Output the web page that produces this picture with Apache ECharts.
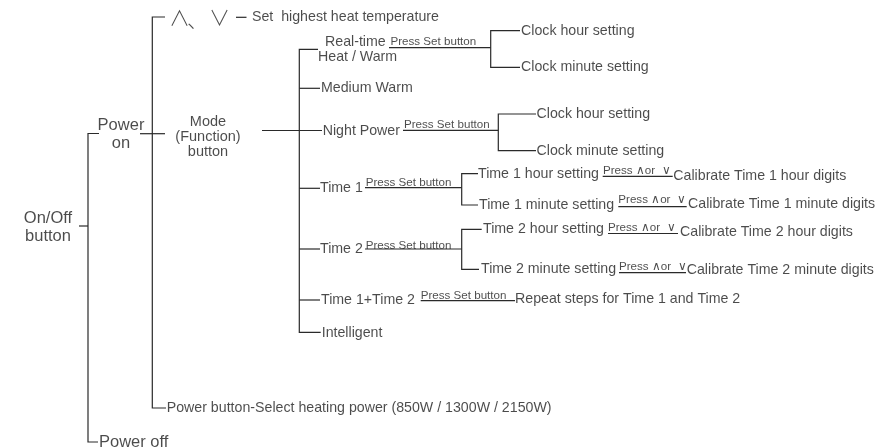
<!DOCTYPE html>
<html>
<head>
<meta charset="utf-8">
<script src="https://cdn.jsdelivr.net/npm/echarts@6/dist/echarts.min.js"></script>
<style>
html,body{margin:0;padding:0;background:#fff;}
#chart{width:879px;height:447px;}
</style>
</head>
<body>
<div id="chart"></div>
<script>
// ---- diagram content (node labels) ----
const stepLabels = [
  'Set  highest heat temperature',
  'Real-time', 'Heat / Warm',
  'Clock hour setting', 'Clock minute setting',
  'Medium Warm',
  'Night Power',
  'Clock hour setting', 'Clock minute setting',
  'Time 1',
  'Time 1 hour setting', 'Calibrate Time 1 hour digits',
  'Time 1 minute setting', 'Calibrate Time 1 minute digits',
  'Time 2',
  'Time 2 hour setting', 'Calibrate Time 2 hour digits',
  'Time 2 minute setting', 'Calibrate Time 2 minute digits',
  'Time 1+Time 2', 'Repeat steps for Time 1 and Time 2',
  'Intelligent',
  'Power button-Select heating power (850W / 1300W / 2150W)'
];
const stepAnchors = [
  [252, 17.5],
  [325, 42.3], [318, 57.3],
  [521, 31.3], [521, 67.5],
  [321, 88.5],
  [322.7, 131],
  [536.5, 114.5], [536.5, 151],
  [320, 188.5],
  [478, 174.5], [673.3, 176],
  [479, 205.5], [688, 204.5],
  [320, 249.5],
  [483, 229.5], [680, 231.7],
  [481, 269.5], [686.7, 270],
  [321, 300], [515, 299.5],
  [321.7, 333.5],
  [166.7, 408]
];

const edgeNotes = [
  'Press Set button', 'Press Set button', 'Press Set button', 'Press Set button', 'Press Set button',
  'Press ∧or  ∨', 'Press ∧or  ∨', 'Press ∧or  ∨', 'Press ∧or  ∨'
];
const edgeNoteAnchors = [
  [390.5, 42], [404, 124.7], [365.7, 183], [365.7, 245.5], [420.7, 296],
  [603, 170.5], [618.3, 199.5], [608, 228], [619, 267]
];

const buttonLabels = ['On/Off\nbutton', 'Power\non', 'Power off'];
const buttonAnchors = [[48, 227.5], [121, 134], [99, 442]];
const buttonAlign = ['center', 'center', 'left'];

const modeLabel = ['Mode\n(Function)\nbutton'];
const modeAnchor = [[208, 137]];

const arrowKeys = ['∧', '、', '∨'];
const arrowKeyAnchors = [[169, 17], [187, 19], [209, 17]];

// ---- connector paths of the tree ----
const connectorPaths = [
  // On/Off bracket
  [[79, 226], [88, 226]],
  [[99, 133.5], [88, 133.5], [88, 442], [98, 442]],
  // Power on -> main bracket
  [[140, 133.7], [165, 133.7]],
  [[165, 17], [152.3, 17], [152.3, 408], [166, 408]],
  [[236, 17.3], [246.5, 17.3]],
  // Mode -> functions
  [[262, 130.5], [322, 130.5]],
  [[318, 49.3], [299.3, 49.3], [299.3, 332.3], [320.7, 332.3]],
  [[299.3, 88.3], [320, 88.3]],
  [[299.3, 188.3], [320, 188.3]],
  [[299.3, 249], [320, 249]],
  [[299.3, 300], [320, 300]],
  // Real-time
  [[389, 47.7], [490.7, 47.7]],
  [[520, 30.7], [490.7, 30.7], [490.7, 67.3], [520, 67.3]],
  // Night Power
  [[403, 130.3], [498.3, 130.3]],
  [[536, 114], [498.3, 114], [498.3, 150.7], [536, 150.7]],
  // Time 1
  [[365, 187.7], [461.7, 187.7]],
  [[478, 173.7], [461.7, 173.7], [461.7, 205], [478, 205]],
  [[602.7, 176.3], [672.7, 176.3]],
  [[618.3, 206.7], [686.7, 206.7]],
  // Time 2
  [[365, 249], [461.7, 249]],
  [[481.7, 229.3], [461.7, 229.3], [461.7, 269.3], [479, 269.3]],
  [[608, 233.5], [678, 233.5]],
  [[619, 272.7], [686, 272.7]],
  // Time 1 + Time 2
  [[420.7, 300.7], [515, 300.7]]
];

// ---- build chart ----
const FONT = '"Liberation Sans", Arial, Helvetica, sans-serif';
const TXT = '#1e1e1e';

function textSeries(labels, anchors, size, align, extra) {
  return {
    type: 'scatter',
    symbolSize: 1,
    itemStyle: { color: 'rgba(0,0,0,0)' },
    silent: true,
    z: 5,
    data: labels.map((t, i) => ({
      value: anchors[i],
      label: {
        show: true,
        formatter: t,
        position: 'inside',
        align: Array.isArray(align) ? align[i] : align,
        verticalAlign: 'middle',
        color: TXT,
        fontSize: size,
        fontFamily: (extra && extra.fontFamily) || FONT,
        fontWeight: (extra && extra.fontWeight) || 'normal',
        lineHeight: (extra && extra.lineHeight) || Math.round(size * 1.2)
      }
    }))
  };
}

const chart = echarts.init(document.getElementById('chart'), null, { renderer: 'canvas' });
chart.setOption({
  animation: false,
  backgroundColor: '#fff',
  grid: { left: 0, right: 0, top: 0, bottom: 0 },
  xAxis: { type: 'value', min: 0, max: 879, show: false },
  yAxis: { type: 'value', min: 0, max: 447, inverse: true, show: false },
  series: [
    {
      type: 'lines',
      coordinateSystem: 'cartesian2d',
      polyline: true,
      silent: true,
      lineStyle: { color: '#2a2a2a', width: 1.2, opacity: 1, curveness: 0 },
      data: connectorPaths.map(p => ({ coords: p }))
    },
    textSeries(stepLabels, stepAnchors, 14.2, 'left'),
    textSeries(edgeNotes, edgeNoteAnchors, 11.6, 'left'),
    textSeries(buttonLabels, buttonAnchors, 16.5, buttonAlign, { lineHeight: 18 }),
    textSeries(modeLabel, modeAnchor, 14.5, 'center', { lineHeight: 15 }),
    textSeries(arrowKeys, arrowKeyAnchors, 21, 'left', { fontFamily: '"Noto Sans CJK SC", "DejaVu Sans", sans-serif', fontWeight: 300 })
  ]
});
</script>
</body>
</html>
